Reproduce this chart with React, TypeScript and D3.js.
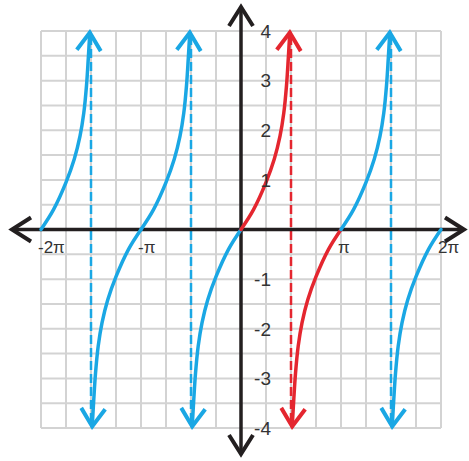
import * as d3 from "d3";

// x values in multiples of pi, y in plain units
const xTicks = [-2, -1, 1, 2];
const xTickLabels = ["-2π", "-π", "π", "2π"];
const yTicks = [4, 3, 2, 1, -1, -2, -3, -4];

// one half-branch of the tangent curve (offset from branch centre)
const upperHalf: [number, number][] = [
  [0, 0], [0.125, 0.4], [0.25, 0.95], [0.333, 1.42], [0.39, 1.88],
  [0.428, 2.35], [0.455, 2.9], [0.473, 3.45], [0.488, 3.97],
];
const lowerHalf: [number, number][] = [
  [0, 0], [-0.125, -0.4], [-0.25, -0.95], [-0.333, -1.42], [-0.39, -1.88],
  [-0.428, -2.35], [-0.455, -2.9], [-0.473, -3.45], [-0.488, -3.97],
];

const branchCentres = [-2, -1, -1, 0, 0, 1, 1, 2];
const branchSides = ["up", "down", "up", "down", "up", "down", "up", "down"];
const branchColours = ["blue", "blue", "blue", "blue", "red", "red", "blue", "blue"];

const asymptotes = [-1.5, -0.5, 0.5, 1.5];
const asymptoteColours = ["blue", "blue", "red", "blue"];

const colours: Record<string, string> = { blue: "#1aa7e4", red: "#e4262f" };

export default function App() {
  const width = 469;
  const height = 461;
  const x = d3.scaleLinear().domain([-2, 2]).range([41, 441]);
  const y = d3.scaleLinear().domain([-4, 4]).range([428, 31]);

  const gridX = d3.range(-2, 2.001, 0.25);
  const gridY = d3.range(-4, 4.001, 0.5);

  const line = d3
    .line<[number, number]>()
    .x((d) => x(d[0]))
    .y((d) => y(d[1]))
    .curve(d3.curveCatmullRom.alpha(0.5));

  const axisColour = "#231f20";
  const font = "'Liberation Sans', Arial, sans-serif";

  return (
    <svg
      width={width}
      height={height}
      style={{ position: "absolute", left: 0, top: 0, background: "#fff" }}
    >
      <defs>
        {Object.keys(colours).map((k) => (
          <marker
            key={k}
            id={"arrow-" + k}
            markerUnits="userSpaceOnUse"
            orient="auto"
            refX={0}
            refY={0}
            markerWidth={40}
            markerHeight={40}
            style={{ overflow: "visible" }}
          >
            <path d="M-18,-12L0,0L-18,12" fill="none" stroke={colours[k]} strokeWidth={4} />
          </marker>
        ))}
        <marker
          id="arrow-axis"
          markerUnits="userSpaceOnUse"
          orient="auto"
          refX={0}
          refY={0}
          markerWidth={40}
          markerHeight={40}
          style={{ overflow: "visible" }}
        >
          <path d="M-19,-12L0,0L-19,12" fill="none" stroke={axisColour} strokeWidth={4} />
        </marker>
      </defs>

      <g stroke="#d3d3d3" strokeWidth={2}>
        {gridX.map((v) => (
          <line key={"gx" + v} x1={x(v)} x2={x(v)} y1={y(4)} y2={y(-4)} />
        ))}
        {gridY.map((v) => (
          <line key={"gy" + v} x1={x(-2)} x2={x(2)} y1={y(v)} y2={y(v)} />
        ))}
      </g>

      {asymptotes.map((a, i) => (
        <line
          key={"as" + i}
          x1={x(a)}
          x2={x(a)}
          y1={y(3.9)}
          y2={y(-3.9)}
          stroke={colours[asymptoteColours[i]]}
          strokeWidth={2.5}
          strokeDasharray="9 4"
        />
      ))}

      <line x1={x(0)} x2={464} y1={y(0)} y2={y(0)} stroke={axisColour} strokeWidth={3.5}
        markerEnd="url(#arrow-axis)" />
      <line x1={x(0)} x2={12} y1={y(0)} y2={y(0)} stroke={axisColour} strokeWidth={3.5}
        markerEnd="url(#arrow-axis)" />
      <line x1={x(0)} x2={x(0)} y1={y(0)} y2={7} stroke={axisColour} strokeWidth={3.5}
        markerEnd="url(#arrow-axis)" />
      <line x1={x(0)} x2={x(0)} y1={y(0)} y2={454} stroke={axisColour} strokeWidth={3.5}
        markerEnd="url(#arrow-axis)" />

      {branchCentres.map((c, i) => {
        const shape = branchSides[i] === "up" ? upperHalf : lowerHalf;
        const pts = shape.map((p) => [c + p[0], p[1]] as [number, number]);
        return (
          <path
            key={"br" + i}
            d={line(pts) ?? ""}
            fill="none"
            stroke={colours[branchColours[i]]}
            strokeWidth={3.5}
            strokeLinecap="round"
            markerEnd={"url(#arrow-" + branchColours[i] + ")"}
          />
        );
      })}

      <g fontFamily={font} fill="#333">
        {yTicks.map((t) => (
          <text key={"yt" + t} x={271} y={y(t)} dy="0.36em" textAnchor="end" fontSize={19}>
            {t}
          </text>
        ))}
        {xTicks.map((t, i) => (
          <text key={"xt" + t} x={x(t) - 3} y={y(0) + 23} textAnchor="start" fontSize={17}>
            {xTickLabels[i]}
          </text>
        ))}
      </g>
    </svg>
  );
}
